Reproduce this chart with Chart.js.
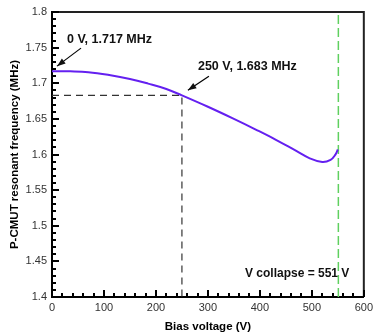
<!DOCTYPE html>
<html>
<head>
<meta charset="utf-8">
<script src="https://cdn.jsdelivr.net/npm/chart.js@4/dist/chart.umd.min.js"></script>
<style>
  html, body { margin: 0; padding: 0; background: #fff; }
  #wrap { width: 377px; height: 334px; }
</style>
</head>
<body>
<div id="wrap"><canvas id="grafica"></canvas></div>
<script>
// Datos
var voltajes = [0, 35, 70, 110, 150, 185, 220, 250, 300, 350, 395, 430, 470, 495, 520, 536, 545, 550];
var frecuencias = [1.717, 1.7167, 1.7155, 1.7115, 1.706, 1.6995, 1.692, 1.683, 1.667, 1.650, 1.634, 1.621, 1.605, 1.595, 1.5895, 1.5925, 1.5995, 1.607];
var vMarca = 250, fMarca = 1.683;
var vColapso = 551;
var etiquetasX = [0, 100, 200, 300, 400, 500, 600];
var etiquetasY = [1.4, 1.45, 1.5, 1.55, 1.6, 1.65, 1.7, 1.75, 1.8];

var puntos = voltajes.map(function (v, i) { return { x: v, y: frecuencias[i] }; });
var fuente = '"Liberation Sans", Arial, sans-serif';

// Marcas menores hacia adentro, marco y flechas con texto
var pluginExtra = {
    id: 'extra',
    afterDraw: function (chart) {
        var c = chart.ctx;
        var a = chart.chartArea;
        var sx = chart.scales.x, sy = chart.scales.y;
        c.save();
        // marco superior y derecho
        c.strokeStyle = '#222';
        c.lineWidth = 2;
        c.beginPath();
        c.moveTo(a.left, a.top);
        c.lineTo(a.right, a.top);
        c.lineTo(a.right, a.bottom);
        c.stroke();
        // ticks hacia adentro
        c.fillStyle = '#000';
        for (var i = 0; i <= 30; i++) {
            var px = Math.round(sx.getPixelForValue(i * 20));
            var largo = (i % 5 === 0) ? 7 : 4;
            c.fillRect(px - 1, a.bottom - largo, 2, largo);
        }
        for (var k = 0; k <= 40; k++) {
            var py = Math.round(sy.getPixelForValue(1.4 + k * 0.01));
            var l = (k % 5 === 0) ? 7 : 4;
            c.fillRect(a.left, py - 1, l, 2);
        }

        // flechas
        c.fillStyle = '#111';
        c.strokeStyle = '#000';
        c.lineWidth = 1.2;
        c.font = 'bold 12.5px ' + fuente;
        c.textBaseline = 'middle';
        var notas = [
            { v: 0, f: 1.717, texto: '0 V, 1.717 MHz', cola: [29, -23], punta: [5, -5], tx: [15, -32] },
            { v: vMarca, f: fMarca, texto: '250 V, 1.683 MHz', cola: [27, -19], punta: [6, -5], tx: [16, -29] }
        ];
        notas.forEach(function (n) {
            var x0 = sx.getPixelForValue(n.v), y0 = sy.getPixelForValue(n.f);
            var tx = x0 + n.cola[0], ty = y0 + n.cola[1];
            var hx = x0 + n.punta[0], hy = y0 + n.punta[1];
            c.beginPath();
            c.moveTo(tx, ty);
            c.lineTo(hx, hy);
            c.stroke();
            var ang = Math.atan2(hy - ty, hx - tx);
            c.beginPath();
            c.moveTo(hx, hy);
            c.lineTo(hx - 9 * Math.cos(ang - 0.35), hy - 9 * Math.sin(ang - 0.35));
            c.lineTo(hx - 9 * Math.cos(ang + 0.35), hy - 9 * Math.sin(ang + 0.35));
            c.closePath();
            c.fill();
            c.textAlign = 'left';
            c.fillText(n.texto, x0 + n.tx[0], y0 + n.tx[1]);
        });
        c.font = 'bold 12px ' + fuente;
        c.textAlign = 'right';
        c.fillText('V collapse = 551 V', sx.getPixelForValue(vColapso) + 11, sy.getPixelForValue(1.4) - 23);
        c.restore();
    }
};

var ctx = document.getElementById('grafica').getContext('2d');
var grafica = new Chart(ctx, {
    type: 'line',
    data: {
        datasets: [{
            data: puntos,
            borderColor: '#6420f0',
            borderWidth: 2,
            pointRadius: 0,
            tension: 0.4,
            fill: false
        }, {
            data: [{ x: 0, y: fMarca }, { x: vMarca, y: fMarca }, { x: vMarca, y: 1.4 }],
            borderColor: '#333',
            borderWidth: 1.2,
            borderDash: [7, 5],
            pointRadius: 0,
            tension: 0
        }, {
            data: [{ x: vColapso, y: 1.4 }, { x: vColapso, y: 1.8 }],
            borderColor: '#5fd05f',
            borderWidth: 1.5,
            borderDash: [9, 4],
            pointRadius: 0,
            tension: 0
        }]
    },
    options: {
        responsive: true,
        maintainAspectRatio: false,
        animation: false,
        layout: { padding: { left: 0, top: 12, right: 8, bottom: 0 } },
        plugins: { legend: { display: false }, tooltip: { enabled: false } },
        scales: {
            x: {
                type: 'linear',
                min: 0, max: 600,
                afterBuildTicks: function (s) { s.ticks = etiquetasX.map(function (v) { return { value: v }; }); },
                afterFit: function (s) { s.height = 37; },
                grid: { drawOnChartArea: false, drawTicks: false },
                border: { display: true, color: '#000', width: 2 },
                ticks: { padding: 4, color: '#333', font: { family: fuente, size: 11 }, maxRotation: 0 },
                title: { display: true, text: 'Bias voltage (V)', color: '#000', padding: { top: 1, bottom: 0 },
                         font: { family: fuente, size: 11.5, weight: 'bold' } }
            },
            y: {
                min: 1.4, max: 1.8,
                afterBuildTicks: function (s) { s.ticks = etiquetasY.map(function (v) { return { value: v }; }); },
                afterFit: function (s) { s.width = 52; },
                grid: { drawOnChartArea: false, drawTicks: false },
                border: { display: true, color: '#000', width: 2 },
                ticks: { padding: 5, color: '#333', font: { family: fuente, size: 11 },
                         callback: function (v) { return String(Math.round(v * 100) / 100); } },
                title: { display: true, text: 'P-CMUT resonant frequency (MHz)', color: '#000', padding: { top: 8, bottom: 2 },
                         font: { family: fuente, size: 11.5, weight: 'bold' } }
            }
        }
    },
    plugins: [pluginExtra]
});
</script>
</body>
</html>
